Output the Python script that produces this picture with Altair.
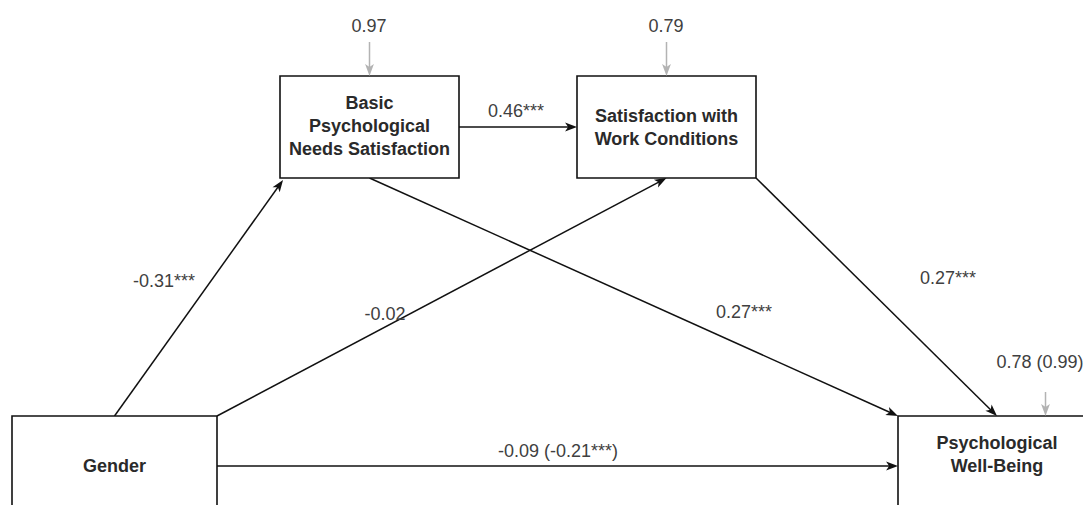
import math
import altair as alt
import pandas as pd

# ---------------- data ----------------
node_ids = ["gender", "bpns", "swc", "pwb"]
node_labels = ["Gender", "Basic\nPsychological\nNeeds Satisfaction",
               "Satisfaction with\nWork Conditions", "Psychological\nWell-Being"]

edge_from = ["bpns", "gender", "gender", "bpns", "swc", "gender"]
edge_to = ["swc", "bpns", "swc", "pwb", "pwb", "pwb"]
edge_coef = ["0.46***", "-0.31***", "-0.02", "0.27***", "0.27***", "-0.09 (-0.21***)"]

resid_node = ["bpns", "swc", "pwb"]
resid_labels = ["0.97", "0.79", "0.78 (0.99)"]

# ---------------- layout (page pixels) ----------------
node_x0 = [12, 280, 577, 898]
node_x1 = [217, 459, 756, 1100]
node_y0 = [416, 76, 76, 416]
node_y1 = [520, 178, 178, 520]
node_lab_x = [114.5, 369.5, 666.5, 997]
node_lab_y = [467, 127, 128, 455]   # centre of the label block
LINE_H = 23

# anchor fractions on each box (fx, fy)
edge_start_f = [(1, 0.5), (0.5, 0), (1, 0), (0.5, 1), (1, 1), (1, 0.49)]
edge_end_f = [(0, 0.5), (0.017, 1.02), (0.5, 1), (0, 0), (0.5, 0), (0, 0.49)]
edge_lab_x = [516, 164, 385, 744, 948, 558]
edge_lab_y = [112, 282, 315, 313, 279, 452]

resid_fx = [0.5, 0.5, 0.745]
resid_len = [34, 34, 24]
resid_lab_x = [369, 666, 1040]
resid_lab_y = [27, 27, 363]

anchor_boxes = {n: (x0, x1, y0, y1) for n, x0, x1, y0, y1 in zip(node_ids, node_x0, node_x1, node_y0, node_y1)}
anchor_boxes["gender"] = (12, 217, 416, 518)
anchor_boxes["pwb"] = (898, 1096, 416, 518)


def anchor(node, f):
    x0, x1, y0, y1 = anchor_boxes[node]
    return x0 + f[0] * (x1 - x0), y0 + f[1] * (y1 - y0)


HEAD_SIZE = 150
R = math.sqrt(HEAD_SIZE) / 2
ARROW = "M0,-1 L0.72,0.95 L0,0.45 L-0.72,0.95 Z"

lines, heads = [], []
for i in range(len(edge_from)):
    sx, sy = anchor(edge_from[i], edge_start_f[i])
    tx, ty = anchor(edge_to[i], edge_end_f[i])
    dx, dy = tx - sx, ty - sy
    L = math.hypot(dx, dy)
    ux, uy = dx / L, dy / L
    cx, cy = tx - ux * R, ty - uy * R
    ang = math.degrees(math.atan2(dx, -dy)) % 360
    lines.append(dict(x=sx, y=sy, x2=cx, y2=cy, kind="black"))
    heads.append(dict(x=cx, y=cy, angle=ang, kind="black"))

for i, n in enumerate(resid_node):
    x0, x1, y0, y1 = anchor_boxes[n]
    tx = x0 + resid_fx[i] * (x1 - x0)
    ty = y0
    sy = ty - resid_len[i]
    lines.append(dict(x=tx, y=sy, x2=tx, y2=ty - R, kind="gray"))
    heads.append(dict(x=tx, y=ty - R, angle=180.0, kind="gray"))

lines_df = pd.DataFrame(lines)
heads_df = pd.DataFrame(heads)
first_line_y = [cy - (lab.count("\n")) * LINE_H / 2 for cy, lab in zip(node_lab_y, node_labels)]
nodes_df = pd.DataFrame(dict(id=node_ids, label=node_labels, x0=node_x0, x1=node_x1,
                             y0=node_y0, y1=node_y1, lx=node_lab_x, ly=first_line_y))
elabels_df = pd.DataFrame(dict(label=edge_coef + resid_labels,
                               x=edge_lab_x + resid_lab_x, y=edge_lab_y + resid_lab_y))

W, H = 1075, 497
xs = alt.Scale(domain=[8, 8 + W], nice=False, zero=False)
ys = alt.Scale(domain=[8, 8 + H], nice=False, zero=False, reverse=True)
colors = alt.Scale(domain=["black", "gray"], range=["#111111", "#b3b3b3"])

rules = alt.Chart(lines_df).mark_rule(strokeWidth=1.5, clip=True).encode(
    x=alt.X("x:Q", scale=xs, axis=None), y=alt.Y("y:Q", scale=ys, axis=None),
    x2="x2:Q", y2="y2:Q",
    color=alt.Color("kind:N", scale=colors, legend=None))

rects = alt.Chart(nodes_df).mark_rect(fill="white", stroke="#111111", strokeWidth=1.6, clip=True).encode(
    x=alt.X("x0:Q", scale=xs, axis=None), x2="x1:Q",
    y=alt.Y("y0:Q", scale=ys, axis=None), y2="y1:Q")

arrowheads = alt.Chart(heads_df).mark_point(shape=ARROW, size=HEAD_SIZE, filled=True,
                                            opacity=1, strokeWidth=0).encode(
    x=alt.X("x:Q", scale=xs, axis=None), y=alt.Y("y:Q", scale=ys, axis=None),
    angle=alt.Angle("angle:Q", scale=None),
    color=alt.Color("kind:N", scale=colors, legend=None))

node_text = alt.Chart(nodes_df).mark_text(font="Liberation Sans", fontSize=18, fontWeight="bold",
                                          lineHeight=LINE_H, lineBreak="\n", baseline="middle",
                                          align="center", color="#2a2a2a").encode(
    x=alt.X("lx:Q", scale=xs, axis=None), y=alt.Y("ly:Q", scale=ys, axis=None), text="label:N")

edge_text = alt.Chart(elabels_df).mark_text(font="Liberation Sans", fontSize=18,
                                            baseline="middle", align="center",
                                            color="#404040").encode(
    x=alt.X("x:Q", scale=xs, axis=None), y=alt.Y("y:Q", scale=ys, axis=None), text="label:N")

chart = alt.layer(rules, rects, arrowheads, node_text, edge_text).properties(
    width=W, height=H, padding=0, autosize=alt.AutoSizeParams(type="none")
).configure_view(stroke=None)

chart.save("out.html", embed_options={"renderer": "svg", "actions": False})
